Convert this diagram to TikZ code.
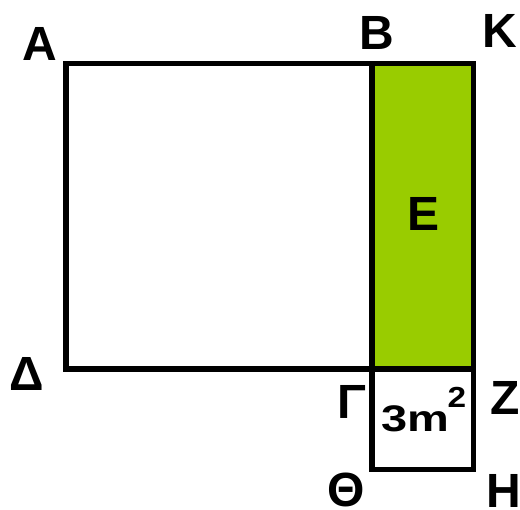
\documentclass[tikz,border=0pt]{standalone}
\usepackage{fontspec}
\setmainfont{Liberation Sans}
\definecolor{areagreen}{RGB}{153,204,0}
\begin{document}
\begin{tikzpicture}[x=1pt,y=-1pt,
  edge/.style={draw=black,line width=5.5pt,line join=miter},
  lbl/.style={inner sep=0pt,anchor=base,font=\bfseries\fontsize{48}{48}\selectfont}]
\useasboundingbox (0,0) rectangle (520,510);
% corners
\coordinate (A) at (66,63.5);
\coordinate (B) at (372,63.5);
\coordinate (K) at (473.5,63.5);
\coordinate (D) at (66,369);
\coordinate (G) at (372,369);
\coordinate (Z) at (473.5,369);
\coordinate (T) at (372,469.5);
\coordinate (H) at (473.5,469.5);
% green strip
\fill[areagreen] (B) rectangle (Z);
% outlines
\draw[edge] (A) -- (K) -- (Z) -- (D) -- cycle;
\draw[edge] (B) -- (G);
\draw[edge] (G) -- (T) -- (H) -- (Z);
% labels
\node[lbl] (lA) at (40,61) {A};
\node[lbl] (lB) at (377,50) {B};
\node[lbl] (lK) at (500,48) {K};
\node[lbl] (lE) at (424,231) {E};
\node[lbl] (lD) at (27,391) {Δ};
\node[lbl] (lG) at (352,419) {Γ};
\node[lbl] (lZ) at (505,415) {Z};
\node[lbl] (lT) at (346,507) {Θ};
\node[lbl] (lH) at (504,507.5) {H};
\node[inner sep=0pt,anchor=base,font=\bfseries\fontsize{37}{37}\selectfont] (l3m) at (415,432) {\scalebox{1.27}[1]{3m}};
\node[inner sep=0pt,anchor=base,font=\bfseries\fontsize{29}{29}\selectfont] (l2) at (457,408) {\scalebox{1.15}[1]{2}};
\end{tikzpicture}
\end{document}
